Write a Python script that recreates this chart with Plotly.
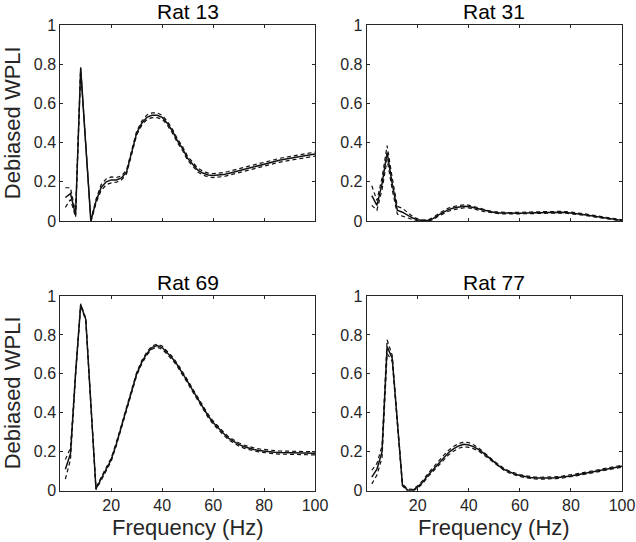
import plotly.graph_objects as go

freq = list(range(2, 101, 2))

rat13_mean = [0.12, 0.14, 0.03, 0.78, 0.39, 0.00, 0.10, 0.17, 0.20, 0.21,
              0.21, 0.22, 0.25, 0.35, 0.45, 0.50, 0.53, 0.54, 0.54, 0.53,
              0.50, 0.46, 0.41, 0.37, 0.32, 0.29, 0.26, 0.245, 0.235, 0.232,
              0.233, 0.237, 0.243, 0.25, 0.257, 0.264, 0.271, 0.278, 0.285, 0.292,
              0.298, 0.304, 0.31, 0.315, 0.32, 0.325, 0.33, 0.334, 0.338, 0.342]
rat13_sem = [0.05, 0.03, 0.01, 0.005, 0.005, 0.005, 0.01, 0.015, 0.015, 0.015,
             0.012, 0.01, 0.01, 0.01, 0.01, 0.01, 0.012, 0.012, 0.012, 0.01,
             0.01, 0.01, 0.01, 0.01, 0.01, 0.01, 0.01, 0.01, 0.01, 0.01,
             0.01, 0.01, 0.01, 0.01, 0.01, 0.01, 0.01, 0.01, 0.01, 0.01,
             0.01, 0.01, 0.01, 0.01, 0.01, 0.01, 0.01, 0.01, 0.01, 0.01]

rat31_mean = [0.13, 0.08, 0.19, 0.35, 0.19, 0.055, 0.045, 0.03, 0.015, 0.006,
              0.002, 0.003, 0.012, 0.03, 0.045, 0.058, 0.066, 0.072, 0.075, 0.074,
              0.068, 0.06, 0.053, 0.048, 0.044, 0.041, 0.04, 0.039, 0.039, 0.04,
              0.041, 0.042, 0.043, 0.044, 0.045, 0.046, 0.046, 0.045, 0.044, 0.042,
              0.039, 0.035, 0.031, 0.027, 0.022, 0.018, 0.014, 0.01, 0.006, 0.003]
rat31_sem = [0.05, 0.025, 0.03, 0.035, 0.03, 0.02, 0.02, 0.015, 0.008, 0.004,
             0.003, 0.003, 0.005, 0.006, 0.007, 0.008, 0.008, 0.008, 0.008, 0.007,
             0.006, 0.005, 0.005, 0.004, 0.004, 0.004, 0.004, 0.004, 0.004, 0.004,
             0.004, 0.004, 0.004, 0.004, 0.004, 0.004, 0.004, 0.004, 0.004, 0.004,
             0.004, 0.004, 0.004, 0.004, 0.004, 0.004, 0.004, 0.003, 0.003, 0.003]

rat69_mean = [0.11, 0.19, 0.60, 0.955, 0.88, 0.44, 0.01, 0.06, 0.11, 0.16,
              0.24, 0.33, 0.43, 0.52, 0.60, 0.66, 0.705, 0.735, 0.745, 0.735,
              0.71, 0.68, 0.645, 0.605, 0.56, 0.515, 0.47, 0.425, 0.385, 0.35,
              0.32, 0.295, 0.27, 0.252, 0.238, 0.227, 0.218, 0.212, 0.207, 0.203,
              0.2, 0.198, 0.196, 0.195, 0.194, 0.193, 0.193, 0.192, 0.192, 0.192]
rat69_sem = [0.05, 0.03, 0.008, 0.005, 0.005, 0.005, 0.005, 0.008, 0.008, 0.008,
             0.008, 0.008, 0.008, 0.008, 0.008, 0.008, 0.008, 0.008, 0.008, 0.008,
             0.008, 0.008, 0.008, 0.008, 0.008, 0.008, 0.008, 0.008, 0.008, 0.008,
             0.008, 0.008, 0.008, 0.008, 0.008, 0.008, 0.008, 0.008, 0.008, 0.008,
             0.008, 0.008, 0.008, 0.008, 0.008, 0.008, 0.008, 0.008, 0.008, 0.008]

rat77_mean = [0.07, 0.11, 0.20, 0.74, 0.68, 0.33, 0.03, 0.003, 0.002, 0.02,
              0.045, 0.08, 0.11, 0.14, 0.17, 0.195, 0.215, 0.23, 0.238, 0.235,
              0.225, 0.21, 0.19, 0.168, 0.145, 0.125, 0.108, 0.095, 0.085, 0.078,
              0.072, 0.068, 0.065, 0.064, 0.064, 0.065, 0.067, 0.069, 0.072, 0.076,
              0.081, 0.086, 0.091, 0.097, 0.102, 0.107, 0.112, 0.117, 0.122, 0.126]
rat77_sem = [0.035, 0.03, 0.03, 0.035, 0.015, 0.01, 0.005, 0.005, 0.005, 0.006,
             0.008, 0.008, 0.01, 0.01, 0.01, 0.012, 0.012, 0.012, 0.012, 0.012,
             0.01, 0.008, 0.008, 0.006, 0.005, 0.005, 0.005, 0.005, 0.005, 0.005,
             0.005, 0.005, 0.005, 0.005, 0.005, 0.005, 0.005, 0.005, 0.005, 0.005,
             0.005, 0.005, 0.005, 0.005, 0.005, 0.005, 0.005, 0.005, 0.005, 0.005]

panel_titles = ["Rat 13", "Rat 31", "Rat 69", "Rat 77"]
y_ticks = [0, 0.2, 0.4, 0.6, 0.8, 1]
y_ticktext = ["0", "0.2", "0.4", "0.6", "0.8", "1"]
x_ticks = [20, 40, 60, 80, 100]

W, H = 636, 542
panels = [
    (rat13_mean, rat13_sem, (60.3, 315.0), (25.3, 221.0)),
    (rat31_mean, rat31_sem, (366.7, 622.0), (25.3, 221.0)),
    (rat69_mean, rat69_sem, (60.3, 315.0), (296.0, 490.7)),
    (rat77_mean, rat77_sem, (366.7, 622.0), (296.0, 490.7)),
]

AX = "#262626"
FONT = "Liberation Sans, Arial, Helvetica, sans-serif"

fig = go.Figure()
layout = {}
annotations = []
for i, (mean, sem, (x0, x1), (yt, yb)) in enumerate(panels):
    n = i + 1
    xa = "x" if n == 1 else f"x{n}"
    ya = "y" if n == 1 else f"y{n}"
    upper = [m + s for m, s in zip(mean, sem)]
    lower = [m - s for m, s in zip(mean, sem)]
    for series, dash, w in ((upper, "4px,3px", 1.2), (lower, "4px,3px", 1.2), (mean, "solid", 1.5)):
        fig.add_trace(go.Scatter(x=freq, y=series, mode="lines", xaxis=xa, yaxis=ya,
                                 line=dict(color="#111111", width=w, dash=dash),
                                 showlegend=False, hoverinfo="skip"))
    bottom = i >= 2
    layout["xaxis" if n == 1 else f"xaxis{n}"] = dict(
        domain=[x0 / W, x1 / W], anchor=ya, range=[0, 100],
        tickvals=x_ticks, ticktext=[str(v) for v in x_ticks],
        showticklabels=bottom, ticks="inside", ticklen=3, tickcolor=AX,
        showline=True, linecolor=AX, linewidth=1, mirror="ticks",
        showgrid=False, zeroline=False,
        tickfont=dict(family=FONT, size=16, color=AX),
    )
    layout["yaxis" if n == 1 else f"yaxis{n}"] = dict(
        domain=[1 - yb / H, 1 - yt / H], anchor=xa, range=[0, 1],
        tickvals=y_ticks, ticktext=y_ticktext,
        ticks="inside", ticklen=3, tickcolor=AX,
        showline=True, linecolor=AX, linewidth=1, mirror="ticks",
        showgrid=False, zeroline=False,
        tickfont=dict(family=FONT, size=16, color=AX),
    )
    annotations.append(dict(text=panel_titles[i], xref="paper", yref="paper",
                            x=(x0 + x1) / 2 / W, y=1 - yt / H, xanchor="center",
                            yanchor="bottom", yshift=0, showarrow=False,
                            font=dict(family=FONT, size=21, color="#000000")))
    if i % 2 == 0:
        annotations.append(dict(text="Debiased WPLI", xref="paper", yref="paper",
                                x=12 / W, y=1 - (yt + yb) / 2 / H, xanchor="center",
                                yanchor="middle", textangle=-90, showarrow=False,
                                font=dict(family=FONT, size=22, color=AX)))
    if bottom:
        annotations.append(dict(text="Frequency (Hz)", xref="paper", yref="paper",
                                x=(x0 + x1) / 2 / W, y=1 - 527 / H, xanchor="center",
                                yanchor="middle", showarrow=False,
                                font=dict(family=FONT, size=22, color=AX)))

fig.update_layout(width=W, height=H, autosize=False,
                  margin=dict(l=0, r=0, t=0, b=0, pad=0, autoexpand=False),
                  paper_bgcolor="white", plot_bgcolor="white",
                  annotations=annotations, **layout)
fig.write_html("out.html", config={"displayModeBar": False, "staticPlot": True},
               post_script="document.documentElement.style.margin='0';"
                           "document.body.style.margin='0';"
                           "document.body.style.overflow='hidden';")
